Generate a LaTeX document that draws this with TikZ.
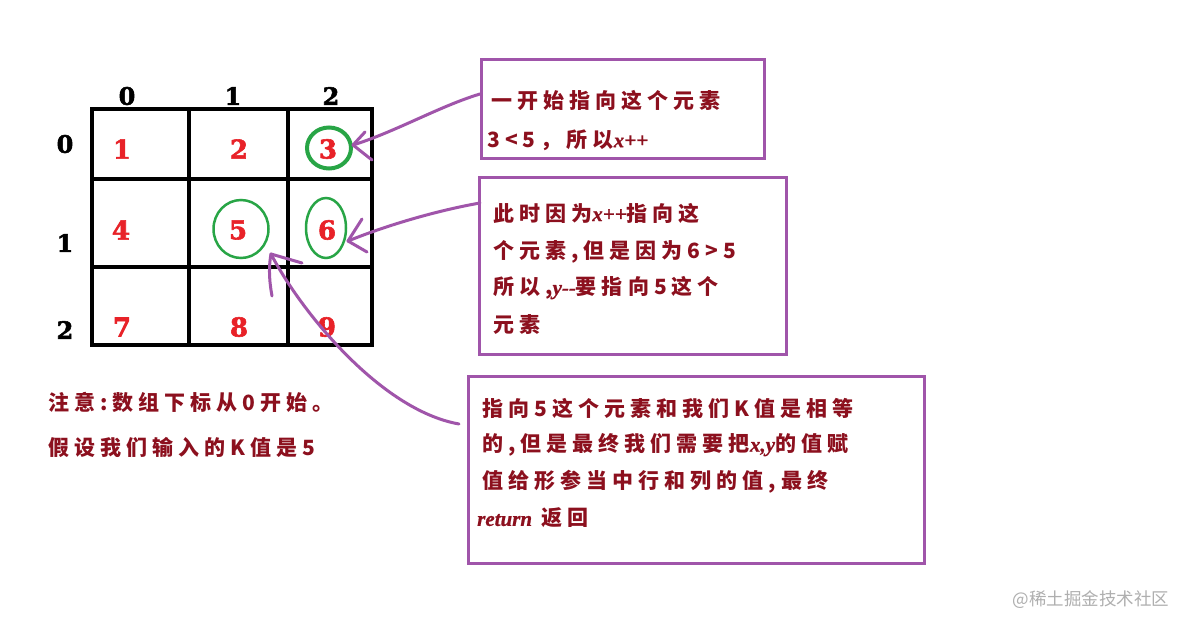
\documentclass[tikz,border=0pt]{standalone}
\usepackage{fontspec}
\newfontfamily\cjk[LetterSpace=24]{Noto Sans CJK SC}
\newfontfamily\cjkplain{Noto Sans CJK SC}
\newfontfamily\latit[FakeBold=0.8]{Liberation Serif Bold Italic}
\newfontfamily\numfont[FakeBold=2.2]{DejaVu Serif Bold}
\newcommand{\li}[1]{{\latit #1}}
\usetikzlibrary{shapes.geometric}
\definecolor{numred}{RGB}{232,34,40}
\definecolor{ringgreen}{RGB}{40,165,70}
\definecolor{boxpurple}{RGB}{160,85,170}
\definecolor{txtred}{RGB}{140,16,30}
\definecolor{wmgray}{RGB}{175,175,175}
\begin{document}
\begin{tikzpicture}[x=1pt,y=-1pt,
  idxlbl/.style={font=\numfont\fontsize{24}{24}\selectfont, text=black, inner sep=0},
  cellnum/.style={font=\numfont\fontsize{26}{26}\selectfont, text=numred, inner sep=0},
  ring/.style={draw=ringgreen, ellipse, inner sep=0},
  note/.style={anchor=west, inner sep=0, text=txtred, font=\cjk\bfseries\fontsize{21}{21}\selectfont},
  callout/.style={draw=boxpurple, line width=3, inner sep=0, anchor=north west},
  pointer/.style={draw=boxpurple, line width=3, line cap=round, line join=round},
  gridline/.style={draw=black, line width=4}]
\useasboundingbox[fill=white] (0,0) rectangle (1190,629);

% grid
\draw[gridline] (92,109) rectangle (372,345);
\draw[gridline] (189,109) -- (189,345);
\draw[gridline] (288,109) -- (288,345);
\draw[gridline] (92,179) -- (372,179);
\draw[gridline] (92,267) -- (372,267);

% index labels
\node[idxlbl] (c0) at (127,96) {0};
\node[idxlbl] (c1) at (233,96) {1};
\node[idxlbl] (c2) at (331,96) {2};
\node[idxlbl] (r0) at (65,144) {0};
\node[idxlbl] (r1) at (65,243) {1};
\node[idxlbl] (r2) at (65,330) {2};

% cell numbers
\node[cellnum] (n1) at (122,149) {1};
\node[cellnum] (n2) at (239,149) {2};
\node[cellnum] (n3) at (328,149) {3};
\node[cellnum] (n4) at (121,230) {4};
\node[cellnum] (n5) at (238,230) {5};
\node[cellnum] (n6) at (327,230) {6};
\node[cellnum] (n7) at (122,327) {7};
\node[cellnum] (n8) at (239,327) {8};
\node[cellnum] (n9) at (327,327) {9};

% rings
\node[ring, line width=4, minimum width=44, minimum height=41] (g3) at (329,148) {};
\node[ring, line width=2.5, minimum width=55, minimum height=58] (g5) at (241,229) {};
\node[ring, line width=2.5, minimum width=40, minimum height=60] (g6) at (326,228) {};

% callout boxes
\node[callout, minimum width=283, minimum height=99] (b1) at (480,58) {};
\node[callout, minimum width=307, minimum height=177] (b2) at (478,176) {};
\node[callout, minimum width=456, minimum height=187] (b3) at (467,375) {};

% box texts
\node[note] (t11) at (491,100) {一开始指向这个元素};
\node[note] (t12) at (487,140) {3<5，所以\li{x++}};

\node[note] (t21) at (493,213) {此时因为\li{x++}指向这};
\node[note] (t22) at (493,252) {个元素,但是因为6>5};
\node[note] (t23) at (493,288) {所以,\li{y--}要指向5这个};
\node[note] (t24) at (493,325) {元素};

\node[note] (t31) at (482,408) {指向5这个元素和我们K值是相等};
\node[note] (t32) at (482,445) {的,但是最终我们需要把\li{x,y}的值赋};
\node[note] (t33) at (482,482) {值给形参当中行和列的值,最终};
\node[note] (t34) at (477,518) {\li{return} 返回};

% notes
\node[note] (m1) at (48,402) {注意:数组下标从0开始。};
\node[note] (m2) at (48,447) {假设我们输入的K值是5};

% watermark
\node[inner sep=0, text=wmgray, font=\cjkplain\fontsize{17.5}{17.5}\selectfont] (wm) at (1091,600) {@稀土掘金技术社区};

% pointers
\coordinate (a1s) at (480,94);
\coordinate (a1t) at (353,145);
\draw[pointer] (a1s) .. controls (440,106) and (395,132) .. (a1t);
\draw[pointer] (a1t) -- ++(12,-13);
\draw[pointer] (a1t) -- ++(19,15);

\coordinate (a2s) at (480,203);
\coordinate (a2t) at (348,241);
\draw[pointer] (a2s) .. controls (440,210) and (390,224) .. (a2t);
\draw[pointer] (a2t) -- ++(14,-22);
\draw[pointer] (a2t) -- ++(19,11);

\coordinate (a3s) at (459,424);
\coordinate (a3t) at (271,254);
\draw[pointer] (a3s) .. controls (380,410) and (300,310) .. (a3t);
\draw[pointer] (a3t) .. controls (268,270) and (270,285) .. ++(1,42);
\draw[pointer] (a3t) -- ++(31,9);
\end{tikzpicture}
\end{document}
